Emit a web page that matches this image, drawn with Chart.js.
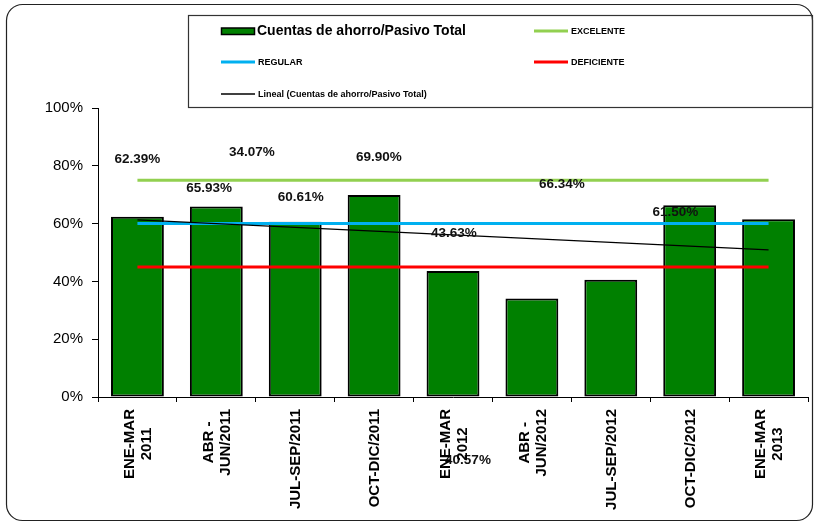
<!DOCTYPE html>
<html>
<head>
<meta charset="utf-8">
<script src="https://cdn.jsdelivr.net/npm/chart.js@4.4.0/dist/chart.umd.min.js"></script>
<style>
  body { margin: 0; background: #fff; }
  #wrap { width: 815px; height: 522px; }
</style>
</head>
<body>
<div id="wrap"><canvas id="barChart" width="815" height="522"></canvas></div>
<script>
// data
const periods = [
    ['ENE-MAR', '2011'], ['ABR -', 'JUN/2011'], 'JUL-SEP/2011', 'OCT-DIC/2011',
    ['ENE-MAR', '2012'], ['ABR -', 'JUN/2012'], 'JUL-SEP/2012', 'OCT-DIC/2012', ['ENE-MAR', '2013']
];
const ahorroPasivo = [62.39, 65.93, 60.61, 69.90, 43.63, 34.07, 40.57, 66.34, 61.50];
const excelente = [75, 75, 75, 75, 75, 75, 75, 75, 75];
const regular = [60, 60, 60, 60, 60, 60, 60, 60, 60];
const deficiente = [45, 45, 45, 45, 45, 45, 45, 45, 45];
const yTicks = [0, 20, 40, 60, 80, 100];

// linear trend (least squares) of the bar series, like Excel's "Lineal"
function linearTrend(vals) {
    const n = vals.length;
    let sx = 0, sy = 0, sxy = 0, sxx = 0;
    vals.forEach((v, i) => { sx += i; sy += v; sxy += i * v; sxx += i * i; });
    const m = (n * sxy - sx * sy) / (n * sxx - sx * sx);
    const b = (sy - m * sx) / n;
    return vals.map((v, i) => b + m * i);
}
const lineal = linearTrend(ahorroPasivo);

const FONT = "'Liberation Sans', Arial, sans-serif";

// where Excel left the (moved) data labels: offset in categories, height in %
const labelSpots = [
    [0.0, 82.4], [-0.09, 72.3], [0.07, 69.2], [0.06, 83.0], [0.01, 56.7],
    [-3.55, 84.8], [-1.81, -21.8], [-1.62, 73.7], [-1.18, 64.0]
];

const framePlugin = {
    id: 'frame',
    beforeDraw(chart) {
        const ctx = chart.ctx;
        ctx.save();
        ctx.fillStyle = '#fff';
        ctx.fillRect(0, 0, chart.width, chart.height);
        ctx.strokeStyle = '#222';
        ctx.lineWidth = 1.2;
        ctx.beginPath();
        ctx.roundRect(6.5, 4.5, 806, 516, 16);
        ctx.stroke();
        ctx.restore();
    }
};

// excel style vertical category labels: block sits against the axis, lines centred in it
const xLabelsPlugin = {
    id: 'xLabels',
    afterDraw(chart) {
        const ctx = chart.ctx;
        const x = chart.scales.x;
        const top = x.top + 12;
        const lh = 17;
        ctx.save();
        ctx.font = 'bold 15px ' + FONT;
        ctx.fillStyle = '#000';
        ctx.textAlign = 'center';
        ctx.textBaseline = 'middle';
        chart.data.labels.forEach((lbl, i) => {
            const lines = Array.isArray(lbl) ? lbl : [lbl];
            const w = Math.max(...lines.map(l => ctx.measureText(l).width));
            const px = x.getPixelForTick(i);
            ctx.save();
            ctx.translate(px, top + w / 2);
            ctx.rotate(-Math.PI / 2);
            lines.forEach((l, j) => {
                ctx.fillText(l, 0, (j - (lines.length - 1) / 2) * lh + 1);
            });
            ctx.restore();
        });
        ctx.restore();
    }
};

const labelsPlugin = {
    id: 'barLabels',
    afterDatasetsDraw(chart) {
        const ctx = chart.ctx;
        const x = chart.scales.x, y = chart.scales.y;
        ctx.save();
        ctx.font = 'bold 13.5px ' + FONT;
        ctx.fillStyle = '#111';
        ctx.textAlign = 'center';
        ctx.textBaseline = 'middle';
        ahorroPasivo.forEach((v, i) => {
            const spot = labelSpots[i];
            ctx.fillText(v.toFixed(2) + '%', x.getPixelForValue(i + spot[0]), y.getPixelForValue(spot[1]));
        });
        ctx.restore();
    }
};

const legendPlugin = {
    id: 'boxLegend',
    afterDraw(chart) {
        const ctx = chart.ctx;
        ctx.save();
        ctx.strokeStyle = '#333';
        ctx.lineWidth = 1.2;
        ctx.strokeRect(188.5, 15.5, 624, 92);

        // bar swatch
        ctx.fillStyle = '#008000';
        ctx.fillRect(221.5, 28, 33, 6.5);
        ctx.strokeStyle = '#000';
        ctx.lineWidth = 1.5;
        ctx.strokeRect(221.5, 28, 33, 6.5);
        ctx.fillStyle = '#000';
        ctx.textBaseline = 'middle';
        ctx.font = 'bold 14px ' + FONT;
        ctx.fillText('Cuentas de ahorro/Pasivo Total', 257, 31.5);

        const items = [
            ['EXCELENTE', '#92D050', 3, 534, 31],
            ['REGULAR', '#00B0F0', 3, 221, 62],
            ['DEFICIENTE', '#FF0000', 3, 534, 62],
            ['Lineal (Cuentas de ahorro/Pasivo Total)', '#000', 1.5, 221, 94]
        ];
        ctx.font = 'bold 9px ' + FONT;
        items.forEach(it => {
            ctx.strokeStyle = it[1];
            ctx.lineWidth = it[2];
            ctx.beginPath();
            ctx.moveTo(it[3], it[4]);
            ctx.lineTo(it[3] + 34, it[4]);
            ctx.stroke();
            ctx.fillStyle = '#000';
            ctx.fillText(it[0], it[3] + 37, it[4] + 0.5);
        });
        ctx.restore();
    }
};

const CHART = document.getElementById('barChart');
const barChart = new Chart(CHART, {
    type: 'bar',
    data: {
        labels: periods,
        datasets: [
            {
                type: 'line',
                label: 'Lineal (Cuentas de ahorro/Pasivo Total)',
                data: lineal,
                borderColor: '#000',
                borderWidth: 1.3,
                pointRadius: 0,
                order: 0
            },
            {
                type: 'line',
                label: 'EXCELENTE',
                data: excelente,
                borderColor: '#92D050',
                borderWidth: 3,
                pointRadius: 0,
                order: 1
            },
            {
                type: 'line',
                label: 'REGULAR',
                data: regular,
                borderColor: '#00B0F0',
                borderWidth: 3,
                pointRadius: 0,
                order: 1
            },
            {
                type: 'line',
                label: 'DEFICIENTE',
                data: deficiente,
                borderColor: '#FF0000',
                borderWidth: 3,
                pointRadius: 0,
                order: 1
            },
            {
                label: 'Cuentas de ahorro/Pasivo Total',
                data: ahorroPasivo,
                backgroundColor: '#008000',
                borderColor: '#000',
                borderWidth: 2,
                borderSkipped: false,
                barPercentage: 0.67,
                categoryPercentage: 1,
                order: 2
            }
        ]
    },
    options: {
        responsive: false,
        animation: false,
        layout: { padding: { left: 0, top: 108, right: 7, bottom: 0 } },
        plugins: {
            legend: { display: false },
            tooltip: { enabled: false }
        },
        scales: {
            x: {
                afterFit: (scale) => { scale.height = 125; },
                grid: {
                    offset: true,
                    drawOnChartArea: false,
                    drawTicks: true,
                    tickLength: 5,
                    color: '#000'
                },
                border: { display: true, color: '#000', width: 1 },
                ticks: { display: false }
            },
            y: {
                min: yTicks[0],
                max: yTicks[yTicks.length - 1],
                afterFit: (scale) => { scale.width = 98; },
                afterBuildTicks: (scale) => { scale.ticks = yTicks.map(v => ({ value: v })); },
                grid: {
                    drawOnChartArea: false,
                    drawTicks: true,
                    tickLength: 6,
                    color: '#000'
                },
                border: { display: true, color: '#000', width: 1 },
                ticks: {
                    padding: 9,
                    color: '#000',
                    font: { family: FONT, size: 15 },
                    callback: (v) => v + '%'
                }
            }
        }
    },
    plugins: [framePlugin, labelsPlugin, xLabelsPlugin, legendPlugin]
});
</script>
</body>
</html>
